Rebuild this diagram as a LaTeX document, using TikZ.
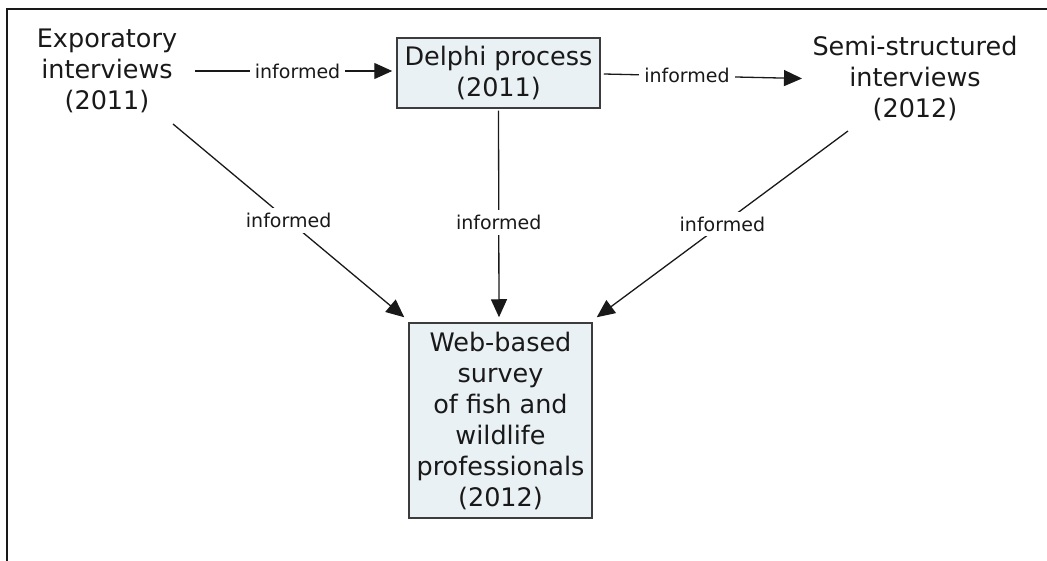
\documentclass[tikz,border=0pt]{standalone}
\usepackage{fontspec}
\setmainfont{DejaVu Sans}
\usetikzlibrary{arrows.meta}
\definecolor{boxfill}{RGB}{234,241,244}
\definecolor{ink}{RGB}{25,25,25}
\tikzset{
 big/.style={font=\fontsize{25.5}{31}\selectfont, align=center, inner sep=0pt, text=ink},
 boxed/.style={big, draw=ink!85, line width=1.5pt, fill=boxfill},
 conn/.style={line width=1.3pt, draw=ink, -{Triangle[length=18pt,width=16pt]}},
 lbl/.style={font=\fontsize{19}{22}\selectfont, fill=white, inner sep=5pt, text=ink},
}
\begin{document}
\begin{tikzpicture}[x=1pt,y=1pt]
\useasboundingbox (0,0) rectangle (1047,-561);
\draw[line width=2.2pt, ink] (7,-561) -- (7,-9) -- (1047,-9);
\node[big] (exp) at (107,-71) {Exporatory\\interviews\\(2011)};
\node[boxed, minimum width=203pt, minimum height=70pt] (delphi) at (498.5,-73) {Delphi process\\(2011)};
\node[big] (semi) at (915,-78.5) {Semi-structured\\interviews\\(2012)};
\node[boxed, minimum width=183pt, minimum height=195pt] (web) at (500.5,-420.5) {Web-based\\survey\\of fish and\\wildlife\\professionals\\(2012)};

\draw[conn] ([xshift=88pt]exp.center) -- node[lbl, pos=0.52] {informed} ([xshift=-4pt,yshift=2pt]delphi.west);
\draw[conn] ([xshift=3pt,yshift=-1pt]delphi.east) -- node[lbl, pos=0.42] {informed} ([xshift=-113pt]semi.center);
\draw[conn] ([xshift=66pt,yshift=-53pt]exp.center) -- node[lbl, pos=0.5] {informed} ([xshift=-4pt,yshift=5pt]web.north west);
\draw[conn] ([yshift=-2pt]delphi.south) -- node[lbl, pos=0.54] {informed} ([xshift=-1.5pt,yshift=5pt]web.north);
\draw[conn] ([xshift=-67pt,yshift=-52.5pt]semi.center) -- node[lbl, pos=0.5] {informed} ([xshift=4pt,yshift=5pt]web.north east);
\end{tikzpicture}
\end{document}
